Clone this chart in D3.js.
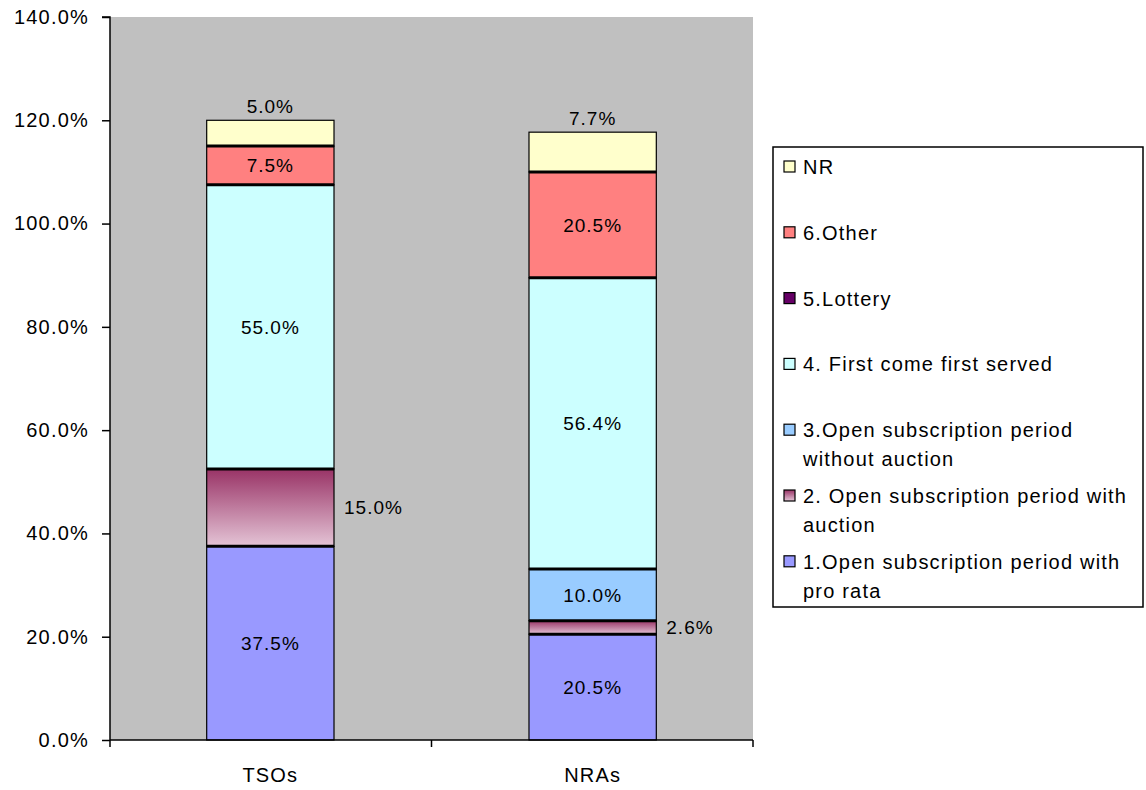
<!DOCTYPE html>
<html>
<head>
<meta charset="utf-8">
<script src="https://cdnjs.cloudflare.com/ajax/libs/d3/7.8.5/d3.min.js"></script>
<style>
  html, body { margin: 0; padding: 0; background: #ffffff; }
  svg { display: block; font-family: "Liberation Sans", Arial, sans-serif; }
</style>
</head>
<body>
<svg id="chart" width="1146" height="790"></svg>
<script>
// Respondent groups along the x axis
const categories = ["TSOs", "NRAs"];

// Allocation method series, stacked bottom to top
const seriesNames = [
  "1.Open subscription period with pro rata",
  "2. Open subscription period with auction",
  "3.Open subscription period without auction",
  "4. First come first served",
  "5.Lottery",
  "6.Other",
  "NR"
];

// Share of answers (%) per series, one value per category
const proRata        = [37.5, 20.5];
const withAuction    = [15.0, 2.6];
const withoutAuction = [0.0, 10.0];
const firstCome      = [55.0, 56.4];
const lottery        = [0.0, 0.0];
const other          = [7.5, 20.5];
const noReply        = [5.0, 7.7];

const seriesValues = [proRata, withAuction, withoutAuction, firstCome, lottery, other, noReply];

// Legend lines (wrapped as in the legend box), listed top to bottom
const legendLines = [
  ["NR"],
  ["6.Other"],
  ["5.Lottery"],
  ["4. First come first served"],
  ["3.Open subscription period", "without auction"],
  ["2. Open subscription period with", "auction"],
  ["1.Open subscription period with", "pro rata"]
];

const yTicks = [0, 20, 40, 60, 80, 100, 120, 140];

const fills = ["#9999FF", "url(#auctionGrad)", "#99CCFF", "#CCFFFF", "#660066", "#FF8080", "#FFFFCC"];

const svg = d3.select("#chart");

// Vertical gradient used by the auction series
const defs = svg.append("defs");
const grad = defs.append("linearGradient")
  .attr("id", "auctionGrad").attr("x1", 0).attr("y1", 0).attr("x2", 0).attr("y2", 1);
grad.append("stop").attr("offset", "0%").attr("stop-color", "#993366");
grad.append("stop").attr("offset", "100%").attr("stop-color", "#E4C4D6");

const plot = { left: 110, right: 753, top: 17, bottom: 740 };

const x = d3.scaleBand().domain(categories)
  .range([plot.left, plot.right]).paddingInner(0.605).paddingOuter(0.3);
const y = d3.scaleLinear().domain([0, 140]).range([plot.bottom, plot.top]);

// Plot background
svg.append("rect")
  .attr("x", plot.left).attr("y", plot.top)
  .attr("width", plot.right - plot.left).attr("height", plot.bottom - plot.top)
  .attr("fill", "#C0C0C0");

// Stack the series
const rows = categories.map((c, i) => {
  const r = { cat: c };
  seriesNames.forEach((s, k) => { r[s] = seriesValues[k][i]; });
  return r;
});
const stacked = d3.stack().keys(seriesNames)(rows);

const barG = svg.append("g");
stacked.forEach((layer, k) => {
  barG.selectAll(null).data(layer.filter(d => d[1] - d[0] > 0)).enter()
    .append("rect")
    .attr("x", d => x(d.data.cat))
    .attr("y", d => y(d[1]))
    .attr("width", x.bandwidth())
    .attr("height", d => y(d[0]) - y(d[1]))
    .attr("fill", fills[k])
    .attr("stroke", "#000")
    .attr("stroke-width", 1.2);
});

// Heavier separators between stacked segments
categories.forEach((c, i) => {
  let cum = 0;
  const bounds = [];
  seriesValues.forEach((vals, k) => {
    cum += vals[i];
    if (k < seriesValues.length - 1 && vals[i] > 0) bounds.push(cum);
  });
  const total = d3.sum(seriesValues, v => v[i]);
  Array.from(new Set(bounds)).filter(b => b > 0 && b < total).forEach(b => {
    barG.append("line")
      .attr("x1", x(c)).attr("x2", x(c) + x.bandwidth())
      .attr("y1", y(b)).attr("y2", y(b))
      .attr("stroke", "#000").attr("stroke-width", 3);
  });
});

// Y axis
const yAxis = svg.append("g")
  .attr("transform", `translate(${plot.left},0)`)
  .call(d3.axisLeft(y).tickValues(yTicks).tickSize(8).tickPadding(13)
    .tickFormat(d => d.toFixed(1) + "%"));
yAxis.select(".domain").attr("stroke", "#000").attr("stroke-width", 1.5)
  .attr("d", `M-8,${plot.top}H0V${plot.bottom}`);
yAxis.selectAll(".tick line").attr("stroke", "#000").attr("stroke-width", 1.5);
yAxis.selectAll(".tick text")
  .attr("font-size", 20).attr("fill", "#000")
  .attr("font-family", "Liberation Sans, Arial, sans-serif")
  .style("letter-spacing", "1.2px");

// X axis
const xAxisG = svg.append("g").attr("transform", `translate(0,${plot.bottom})`);
xAxisG.append("line").attr("x1", plot.left).attr("x2", plot.right)
  .attr("y1", 0).attr("y2", 0).attr("stroke", "#000").attr("stroke-width", 1.5);
const edges = [plot.left, (x(categories[0]) + x.bandwidth() + x(categories[1])) / 2, plot.right];
edges.forEach(e => {
  xAxisG.append("line").attr("x1", e).attr("x2", e).attr("y1", 0).attr("y2", 7)
    .attr("stroke", "#000").attr("stroke-width", 1.5);
});
xAxisG.selectAll(null).data(categories).enter().append("text")
  .attr("x", d => x(d) + x.bandwidth() / 2)
  .attr("y", 42)
  .attr("text-anchor", "middle")
  .attr("font-size", 20)
  .style("letter-spacing", "1.2px")
  .text(d => d);

// Data labels
const labelG = svg.append("g").attr("font-size", 19).style("letter-spacing", "1px").attr("fill", "#000");
stacked.forEach((layer, k) => {
  layer.forEach(d => {
    const v = d[1] - d[0];
    if (v <= 0) return;
    const cx = x(d.data.cat) + x.bandwidth() / 2;
    const txt = v.toFixed(1) + "%";
    if (k === seriesNames.length - 1) {
      // No-reply share sits just above the column
      labelG.append("text").attr("x", cx).attr("y", y(d[1]) - 7)
        .attr("text-anchor", "middle").text(txt);
    } else if (k === 1) {
      // Auction share sits to the right of the column
      labelG.append("text").attr("x", x(d.data.cat) + x.bandwidth() + 10)
        .attr("y", (y(d[0]) + y(d[1])) / 2).attr("dy", "0.35em")
        .text(txt);
    } else {
      labelG.append("text").attr("x", cx)
        .attr("y", (y(d[0]) + y(d[1])) / 2).attr("dy", "0.35em")
        .attr("text-anchor", "middle").text(txt);
    }
  });
});

// Legend
const legend = { x: 773, y: 147, w: 370, h: 460 };
const lg = svg.append("g");
lg.append("rect").attr("x", legend.x).attr("y", legend.y)
  .attr("width", legend.w).attr("height", legend.h)
  .attr("fill", "#fff").attr("stroke", "#000").attr("stroke-width", 1.5);
const legendFills = fills.slice().reverse();
legendLines.forEach((lines, i) => {
  const top = 167 + i * 65.8;
  lg.append("rect").attr("x", 784).attr("y", top - 6).attr("width", 11).attr("height", 11)
    .attr("fill", legendFills[i]).attr("stroke", "#000").attr("stroke-width", 1.2);
  lines.forEach((t, j) => {
    lg.append("text").attr("x", 803).attr("y", top + j * 29).attr("dy", "0.35em")
      .attr("font-size", 20).style("letter-spacing", "1.2px").text(t);
  });
});
</script>
</body>
</html>
